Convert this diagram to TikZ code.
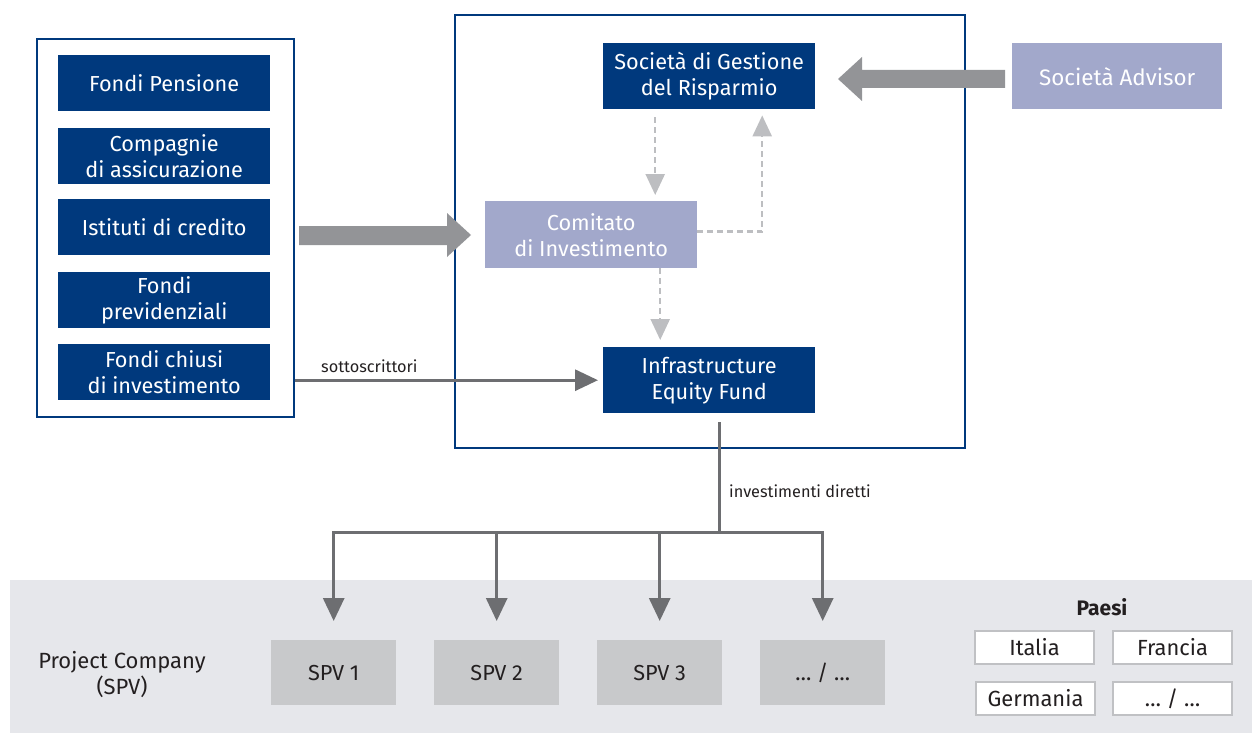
\documentclass[tikz,border=0pt]{standalone}
\usepackage{fontspec}
\setmainfont{Fira Sans}
\usetikzlibrary{arrows.meta}

\definecolor{navy}{RGB}{0,57,125}
\definecolor{lav}{RGB}{162,168,203}
\definecolor{blockgray}{RGB}{147,148,151}
\definecolor{linegray}{RGB}{109,110,113}
\definecolor{dashgray}{RGB}{189,190,193}
\definecolor{band}{RGB}{230,231,235}
\definecolor{spvgray}{RGB}{200,201,203}
\definecolor{frame}{RGB}{192,193,196}
\definecolor{ink}{RGB}{35,31,32}

\tikzset{
  txt/.style={font=\fontsize{21.7}{26}\selectfont},
  investor/.style={txt, fill=navy, text=white, anchor=north west, inner sep=0pt,
    minimum width=212pt, minimum height=56pt, align=center},
  navybox/.style={txt, fill=navy, text=white, anchor=north west, inner sep=0pt,
    minimum width=212pt, minimum height=66pt, align=center},
  lavbox/.style={txt, fill=lav, text=white, anchor=north west, inner sep=0pt, align=center},
  outline/.style={draw=navy, line width=2pt, anchor=north west, inner sep=0pt},
  spv/.style={fill=spvgray, text=ink, anchor=north west, inner sep=0pt,
    minimum width=125pt, minimum height=65pt, font=\fontsize{21.7}{25}\selectfont},
  country/.style={fill=white, draw=frame, line width=2pt, text=ink, anchor=north west,
    inner sep=0pt, minimum width=119pt, minimum height=33pt, font=\fontsize{21.9}{25}\selectfont},
  smalllabel/.style={text=ink, font=\fontsize{16.3}{19}\selectfont, inner sep=0pt},
  flow/.style={draw=linegray, line width=3pt,
    -{Triangle[length=23pt, width=21pt]}},
  dashflow/.style={draw=dashgray, line width=2.5pt, dash pattern=on 6pt off 4pt,
    -{Triangle[length=21pt, width=19pt]}},
}

\begin{document}
\begin{tikzpicture}[x=1pt, y=-1pt]
\useasboundingbox (0,0) rectangle (1252,733);

% bottom band with the project companies and countries
\fill[band] (10,580) rectangle (1252,733);

% frames
\node[outline, minimum width=257pt, minimum height=378pt] (investors) at (36,38) {};
\node[outline, minimum width=510pt, minimum height=433pt] (fundframe) at (454,14) {};

% investor categories
\node[investor] (pension)   at (58,55)  {Fondi Pensione};
\node[investor] (insurance) at (58,128) {Compagnie\\di assicurazione};
\node[investor] (banks)     at (58,199) {Istituti di credito};
\node[investor] (provident) at (58,272) {Fondi\\previdenziali};
\node[investor] (closed)    at (58,344) {Fondi chiusi\\di investimento};

% fund structure
\node[navybox] (sgr)  at (603,43)  {Società di Gestione\\del Risparmio};
\node[navybox] (fund) at (603,347) {Infrastructure\\Equity Fund};
\node[lavbox, minimum width=212pt, minimum height=67pt] (committee) at (485,201)
  {Comitato\\di Investimento};
\node[lavbox, minimum width=210pt, minimum height=66pt,
  font=\fontsize{22.4}{26}\selectfont] (advisor) at (1012,43) {Società Advisor};

% block arrows
\fill[blockgray] (1005,70) -- (862,70) -- (862,57) -- (838,79) -- (862,101)
  -- (862,88) -- (1005,88) -- cycle;
\fill[blockgray] (299,226) -- (447,226) -- (447,213) -- (471,235) -- (447,257)
  -- (447,245) -- (299,245) -- cycle;

% governance flows
\draw[dashflow, shorten >=6pt] ([shift={(-54,8)}]sgr.south)
  -- ([xshift=-54pt]sgr.south |- committee.north);
\draw[dashflow, shorten >=7pt] ([xshift=-49pt]fund.north |- committee.south)
  -- ([xshift=-49pt]fund.north);
\draw[dashflow, shorten >=6pt] ([yshift=3pt]committee.east) -| ([xshift=53pt]sgr.south);

% subscriptions
\draw[flow, shorten >=5pt] (investors.east |- fund.west) -- (fund.west)
  node[smalllabel, pos=0.08, above=6pt, anchor=south west] {sottoscrittori};

% direct investments
\node[spv] (spv1) at (271,640) {SPV 1};
\node[spv] (spv2) at (434,640) {SPV 2};
\node[spv] (spv3) at (597,640) {SPV 3};
\node[spv] (spv4) at (760,640) {… / …};

\coordinate (split) at ([xshift=10pt]fund.south |- 0,532);
\draw[linegray, line width=3pt] ([shift={(10,9)}]fund.south) -- (split);
\foreach \s in {spv1,spv2,spv3,spv4}
  \draw[flow, shorten >=19pt] (split) -| (\s.north);
\node[smalllabel, anchor=west] (directlabel) at (729,491) {investimenti diretti};

\node[text=ink, align=center, font=\fontsize{22}{26}\selectfont] (spvlabel)
  at (122,675) {Project Company\\(SPV)};

% countries
\node[text=ink, font=\bfseries\fontsize{21}{24}\selectfont] (paesi) at (1102,607) {Paesi};
\node[country] (italia)   at (974,630)  {Italia};
\node[country] (francia)  at (1112,630) {Francia};
\node[country] (germania) at (975,681)  {Germania};
\node[country] (others)   at (1112,681) {… / …};
\end{tikzpicture}
\end{document}
